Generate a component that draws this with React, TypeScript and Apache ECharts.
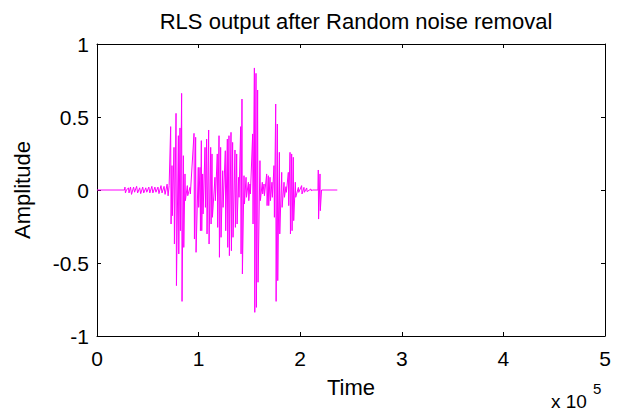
import React, { useEffect, useRef } from "react";
import * as echarts from "echarts";

const xTicks = [0, 1, 2, 3, 4, 5];
const yTicks = [-1, -0.5, 0, 0.5, 1];

// low-level noise before the speech burst (x in units of 1e5)
const noiseX = [0.0, 0.27, 0.275, 0.28, 0.29, 0.31, 0.315, 0.33, 0.34, 0.36, 0.37, 0.39, 0.4, 0.42, 0.43, 0.45, 0.46, 0.48, 0.49, 0.51, 0.52, 0.54, 0.55, 0.57, 0.58, 0.6, 0.61, 0.63, 0.64, 0.66, 0.67, 0.69, 0.7, 0.71];
const noiseY = [0, 0, 0.02, -0.02, 0, 0.015, -0.02, 0.02, -0.03, 0.02, -0.015, 0.025, -0.02, 0.015, -0.025, 0.02, -0.02, 0.015, -0.015, 0.02, -0.02, 0.025, -0.02, 0.02, -0.015, 0.02, -0.025, 0.03, -0.02, 0.025, -0.03, 0.04, -0.04, 0.03];

// speech burst: peak position, positive peak, negative peak
const spikeX = [0.725, 0.738, 0.758, 0.778, 0.801, 0.817, 0.833, 0.85, 0.866, 0.889, 0.915, 0.955, 0.971, 0.997, 1.014, 1.027, 1.04, 1.063, 1.079, 1.099, 1.119, 1.132, 1.161, 1.184, 1.201, 1.217, 1.237, 1.263, 1.283, 1.299, 1.319, 1.335, 1.358, 1.375, 1.394, 1.414, 1.427, 1.447, 1.467, 1.49, 1.506, 1.532, 1.549, 1.565, 1.581, 1.604, 1.627, 1.644, 1.67, 1.686, 1.703, 1.722, 1.742, 1.759, 1.775, 1.795, 1.818, 1.841, 1.86, 1.883, 1.9, 1.916, 1.932, 1.952, 1.982, 2.014, 2.037, 2.064, 2.106];
const spikeTop = [0.434, 0.167, 0.292, 0.525, 0.372, 0.425, 0.662, 0.235, 0.11, 0.03, 0.018, 0.388, 0.361, 0.155, 0.155, 0.338, 0.11, 0.292, 0.349, 0.411, 0.292, 0.247, 0.087, 0.247, 0.372, 0.292, 0.132, 0.269, 0.349, 0.372, 0.395, 0.326, 0.274, 0.247, 0.087, 0.434, 0.623, 0.098, 0.087, 0.053, 0.041, 0.384, 0.836, 0.799, 0.685, 0.201, 0.053, 0.041, 0.11, 0.098, 0.087, 0.053, 0.167, 0.589, 0.452, 0.258, 0.121, 0.053, 0.023, 0.121, 0.258, 0.247, 0.224, 0.053, 0.018, 0.03, 0.018, 0.014, 0.007];
const spikeBottom = [-0.233, -0.176, -0.37, -0.655, -0.438, -0.279, -0.763, -0.393, -0.073, -0.039, -0.027, -0.336, -0.427, -0.119, -0.279, -0.279, -0.164, -0.119, -0.301, -0.37, -0.233, -0.187, -0.073, -0.256, -0.461, -0.324, -0.119, -0.279, -0.393, -0.45, -0.416, -0.324, -0.256, -0.233, -0.05, -0.438, -0.575, -0.096, -0.05, -0.073, -0.027, -0.233, -0.838, -0.804, -0.632, -0.073, -0.027, -0.039, -0.107, -0.107, -0.073, -0.05, -0.187, -0.763, -0.621, -0.301, -0.119, -0.05, -0.016, -0.107, -0.301, -0.279, -0.21, -0.05, -0.016, -0.027, -0.016, -0.011, -0.007];

// trailing click and silence
const tailX = [2.12, 2.175, 2.178, 2.181, 2.195, 2.198, 2.21, 2.365];
const tailY = [0, 0, 0.137, -0.199, 0.11, -0.142, 0, 0];

function buildData(): number[][] {
  const d: number[][] = [];
  noiseX.forEach((x, i) => d.push([x, noiseY[i]]));
  spikeX.forEach((x, i) => {
    d.push([x, spikeTop[i]]);
    d.push([x + 0.004, spikeBottom[i]]);
  });
  tailX.forEach((x, i) => d.push([x, tailY[i]]));
  return d;
}

const FONT = "'Liberation Sans', Arial, sans-serif";

export default function App() {
  const ref = useRef<HTMLDivElement>(null);
  useEffect(() => {
    if (!ref.current) return;
    const chart = echarts.init(ref.current, null, { renderer: "svg" });
    const axisLine = { show: true, onZero: false, lineStyle: { color: "#000", width: 1 } };
    const tick = { show: true, inside: true, length: 4, lineStyle: { color: "#000", width: 1 } };
    chart.setOption({
      animation: false,
      backgroundColor: "#fff",
      title: {
        text: "RLS output after Random noise removal",
        left: 351,
        textAlign: "center",
        top: 5,
        textStyle: { fontFamily: FONT, fontSize: 22, fontWeight: "normal", color: "#000" },
      },
      grid: { left: 97, right: 15, top: 44, bottom: 78, containLabel: false },
      xAxis: [
        {
          type: "value",
          min: xTicks[0],
          max: xTicks[xTicks.length - 1],
          interval: 1,
          position: "bottom",
          axisLine,
          axisTick: tick,
          splitLine: { show: false },
          axisLabel: { fontFamily: FONT, fontSize: 21, color: "#000", margin: 12 },
          name: "Time",
          nameLocation: "middle",
          nameGap: 40,
          nameTextStyle: { fontFamily: FONT, fontSize: 22, color: "#000" },
        },
        {
          type: "value",
          min: xTicks[0],
          max: xTicks[xTicks.length - 1],
          interval: 1,
          position: "top",
          axisLine,
          axisTick: tick,
          splitLine: { show: false },
          axisLabel: { show: false },
        },
      ],
      yAxis: [
        {
          type: "value",
          min: yTicks[0],
          max: yTicks[yTicks.length - 1],
          interval: 0.5,
          position: "left",
          axisLine,
          axisTick: tick,
          splitLine: { show: false },
          axisLabel: { fontFamily: FONT, fontSize: 21, color: "#000", margin: 8 },
          name: "Amplitude",
          nameLocation: "middle",
          nameGap: 64,
          nameTextStyle: { fontFamily: FONT, fontSize: 22, color: "#000" },
        },
        {
          type: "value",
          min: yTicks[0],
          max: yTicks[yTicks.length - 1],
          interval: 0.5,
          position: "right",
          axisLine,
          axisTick: tick,
          splitLine: { show: false },
          axisLabel: { show: false },
        },
      ],
      graphic: [
        {
          type: "text",
          left: 551,
          top: 391,
          style: { text: "x 10", fontFamily: FONT, fontSize: 19, lineHeight: 20, fill: "#000" },
        },
        {
          type: "text",
          left: 593,
          top: 381,
          style: { text: "5", fontFamily: FONT, fontSize: 15, lineHeight: 15, fill: "#000" },
        },
      ],
      series: [
        {
          type: "line",
          data: buildData(),
          showSymbol: false,
          lineStyle: { color: "#ff00ff", width: 1 },
          itemStyle: { color: "#ff00ff" },
        },
      ],
    });
    return () => chart.dispose();
  }, []);
  return (
    <div
      ref={ref}
      style={{ position: "fixed", left: 0, top: 0, width: 620, height: 414, background: "#fff" }}
    />
  );
}
